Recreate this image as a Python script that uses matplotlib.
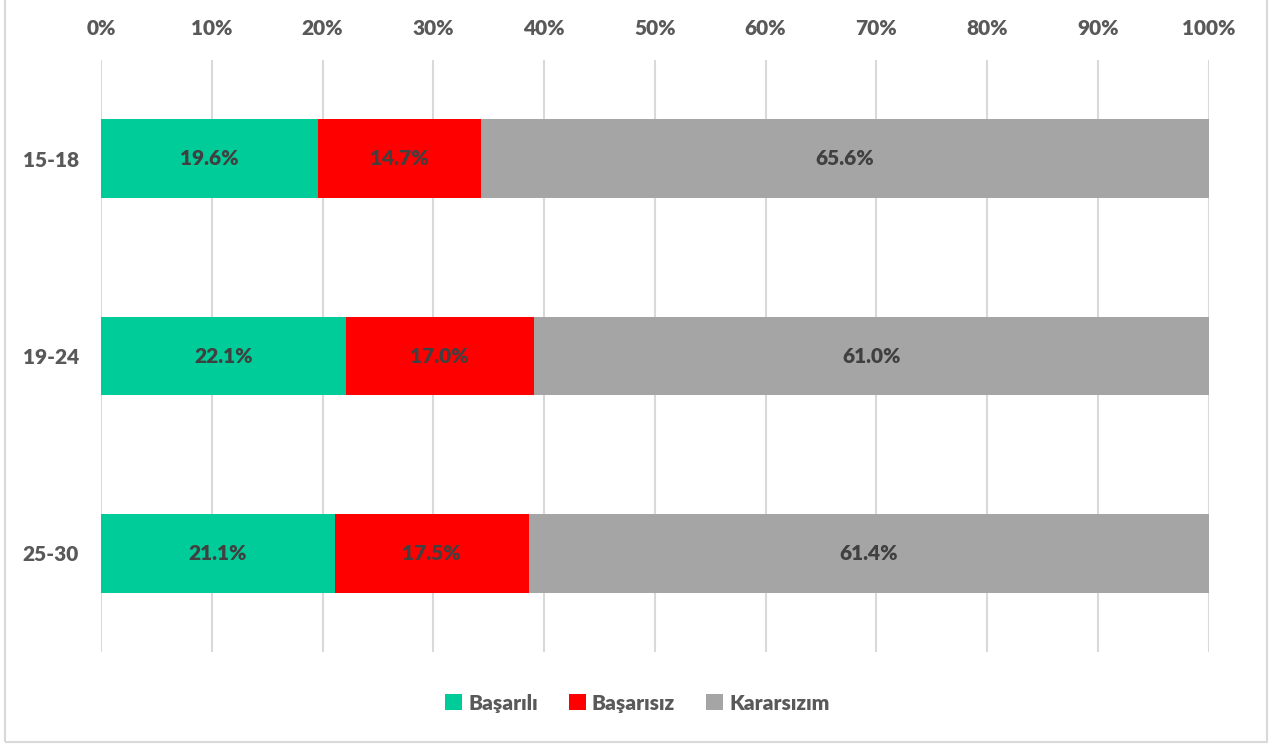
import matplotlib.pyplot as plt
from matplotlib.patches import Rectangle

plt.rcParams['font.family'] = ['Lato', 'DejaVu Sans']

# age groups, top to bottom
groups = ['15-18', '19-24', '25-30']
basarili = [19.6, 22.1, 21.1]
basarisiz = [14.7, 17.0, 17.5]
kararsizim = [65.6, 61.0, 61.4]
series_names = ['Başarılı', 'Başarısız', 'Kararsızım']
colors = ['#00cc99', '#ff0000', '#a5a5a5']

fig = plt.figure(figsize=(12.75, 7.44), dpi=100)
ax = fig.add_axes([0.0792, 0.1237, 0.8688, 0.7956])

ypos = list(range(len(groups)))
left = [0.0] * len(groups)
for vals, name, col in zip([basarili, basarisiz, kararsizim], series_names, colors):
    total = [b + s + k for b, s, k in zip(basarili, basarisiz, kararsizim)]
    shares = [v / t * 100 for v, t in zip(vals, total)]
    bars = ax.barh(ypos, shares, left=left, height=0.4, color=col, label=name, zorder=3)
    for rect, v in zip(bars, vals):
        ax.text(rect.get_x() + rect.get_width() / 2, rect.get_y() + rect.get_height() / 2,
                f'{v:.1f}%', ha='center', va='center', fontsize=15, fontweight='heavy',
                color='#404040', zorder=4)
    left = [l + s for l, s in zip(left, shares)]

ax.set_xlim(0, 100)
ax.set_ylim(2.5, -0.5)
ax.set_yticks(ypos)
ax.set_yticklabels(groups)
ax.set_xticks(range(0, 101, 10))
ax.set_xticklabels([f'{t}%' for t in range(0, 101, 10)])
ax.xaxis.tick_top()
ax.tick_params(axis='x', length=0, pad=16, labelsize=15, labelcolor='#595959')
ax.tick_params(axis='y', length=0, pad=16, labelsize=15, labelcolor='#595959')
for lab in ax.get_xticklabels() + ax.get_yticklabels():
    lab.set_fontweight('heavy')
ax.grid(axis='x', color='#d9d9d9', linewidth=1.5, zorder=0)
for sp in ax.spines.values():
    sp.set_visible(False)

leg = fig.legend(loc='center', bbox_to_anchor=(0.5, 0.055), ncol=3, frameon=False,
                 handlelength=0.8, handleheight=0.8, handletextpad=0.3, columnspacing=1.5,
                 prop={'size': 15, 'weight': 'heavy'})
for t in leg.get_texts():
    t.set_color('#595959')

fig.patches.append(Rectangle((0.004, 0.003), 0.99, 1.1, transform=fig.transFigure,
                             fill=False, edgecolor='#d9d9d9', linewidth=1.5))

fig.savefig('out.png', dpi=100)
